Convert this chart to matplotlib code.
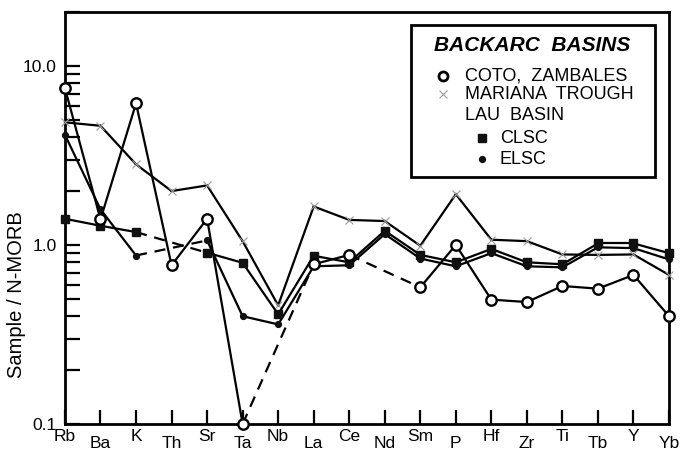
import numpy as np
import matplotlib.pyplot as plt
from matplotlib.patches import Rectangle
from matplotlib.ticker import LogLocator, NullFormatter

plt.rcParams['font.family'] = ['Liberation Sans', 'DejaVu Sans']

# Elements, normalised to N-MORB
elements = ['Rb', 'Ba', 'K', 'Th', 'Sr', 'Ta', 'Nb', 'La', 'Ce', 'Nd',
            'Sm', 'P', 'Hf', 'Zr', 'Ti', 'Tb', 'Y', 'Yb']

nan = np.nan
coto = [7.5, 1.39, 6.18, 0.77, 1.40, 0.10, nan, 0.78, 0.88, nan,
        0.58, 1.00, 0.495, 0.48, 0.59, 0.57, 0.68, 0.40]
mariana = [4.84, 4.63, 2.82, 2.00, 2.15, 1.05, 0.46, 1.64, 1.38, 1.36,
           0.99, 1.92, 1.07, 1.05, 0.885, 0.88, 0.885, 0.68]
clsc = [1.40, 1.28, 1.18, nan, 0.905, 0.795, 0.41, 0.87, 0.80, 1.20,
        0.88, 0.80, 0.95, 0.80, 0.78, 1.02, 1.02, 0.90]
elsc = [4.12, 1.58, 0.873, nan, 1.06, 0.40, 0.36, 0.76, 0.77, 1.15,
        0.84, 0.76, 0.90, 0.76, 0.75, 0.97, 0.96, 0.83]


def draw_series(ax, values, z, **mk):
    y = np.array(values, dtype=float)
    x = np.arange(len(y))
    idx = x[~np.isnan(y)]
    # solid between neighbours, dashed across a missing element
    for a, b in zip(idx[:-1], idx[1:]):
        if b == a + 1:
            ax.plot([a, b], [y[a], y[b]], color='k', lw=1.6, zorder=z,
                    clip_on=False)
        else:
            ax.plot([a, b], [y[a], y[b]], color='k', lw=1.6, zorder=z,
                    ls=(0, (5, 3.5)), clip_on=False)
    ax.plot(idx, y[idx], ls='none', zorder=z + 0.5, clip_on=False, **mk)


fig = plt.figure(figsize=(6.81, 4.53), dpi=100)
ax = fig.add_axes([0.0954, 0.064, 0.887, 0.9095])

x_style = dict(marker='x', ms=6, mew=0.8, color='#9c9c9c')
o_style = dict(marker='o', ms=7.5, mew=1.7, mfc='white', mec='k')
s_style = dict(marker='s', ms=5.5, color='#111111')
d_style = dict(marker='o', ms=4.2, color='#111111')

draw_series(ax, mariana, 3, **x_style)
draw_series(ax, elsc, 4, **d_style)
draw_series(ax, clsc, 5, **s_style)
draw_series(ax, coto, 6, **o_style)

ax.set_yscale('log')
ax.set_ylim(0.1, 20)
ax.set_xlim(0, 17)

ax.set_yticks([0.1, 1, 10])
ax.set_yticklabels(['0.1', '1.0', '10.0'])
ax.yaxis.set_minor_locator(LogLocator(base=10, subs=np.arange(2, 10)))
ax.yaxis.set_minor_formatter(NullFormatter())
ax.tick_params(axis='y', which='both', direction='in', length=11, width=1.6,
               labelsize=12.5, pad=6)

# staggered element labels along the bottom
ax.set_xticks(range(0, 18, 2))
ax.set_xticklabels(elements[0::2])
ax.set_xticks(range(1, 18, 2), minor=True)
ax.set_xticklabels(elements[1::2], minor=True)
ax.tick_params(axis='x', which='both', direction='in', length=10, width=1.6,
               labelsize=12.5)
ax.tick_params(axis='x', which='major', pad=3.5)
ax.tick_params(axis='x', which='minor', pad=8.5)

for sp in ax.spines.values():
    sp.set_linewidth(2)

ax.set_ylabel('Sample / N-MORB', fontsize=14.5)
ax.yaxis.set_label_coords(-0.064, 0.313)

# legend box
ax.add_patch(Rectangle((0.573, 0.600), 0.404, 0.368, transform=ax.transAxes,
                       fc='white', ec='k', lw=2, zorder=10))
ax.text(0.773, 0.918, 'BACKARC  BASINS', transform=ax.transAxes, fontsize=15,
        fontweight='bold', fontstyle='italic', ha='center', va='center', zorder=11)
ax.plot([0.626], [0.845], transform=ax.transAxes, zorder=11, ls='none',
        marker='o', ms=6.5, mew=2, mfc='white', mec='k')
ax.text(0.662, 0.845, 'COTO,  ZAMBALES', transform=ax.transAxes, fontsize=13,
        va='center', zorder=11)
ax.plot([0.626], [0.800], transform=ax.transAxes, zorder=11, ls='none', **x_style)
ax.text(0.662, 0.799, 'MARIANA  TROUGH', transform=ax.transAxes, fontsize=13,
        va='center', zorder=11)
ax.text(0.662, 0.748, 'LAU  BASIN', transform=ax.transAxes, fontsize=13,
        va='center', zorder=11)
ax.plot([0.690], [0.693], transform=ax.transAxes, zorder=11, ls='none', **s_style)
ax.text(0.720, 0.693, 'CLSC', transform=ax.transAxes, fontsize=13,
        va='center', zorder=11)
ax.plot([0.690], [0.643], transform=ax.transAxes, zorder=11, ls='none', **d_style)
ax.text(0.720, 0.643, 'ELSC', transform=ax.transAxes, fontsize=13,
        va='center', zorder=11)

fig.savefig('out.png', dpi=100)
